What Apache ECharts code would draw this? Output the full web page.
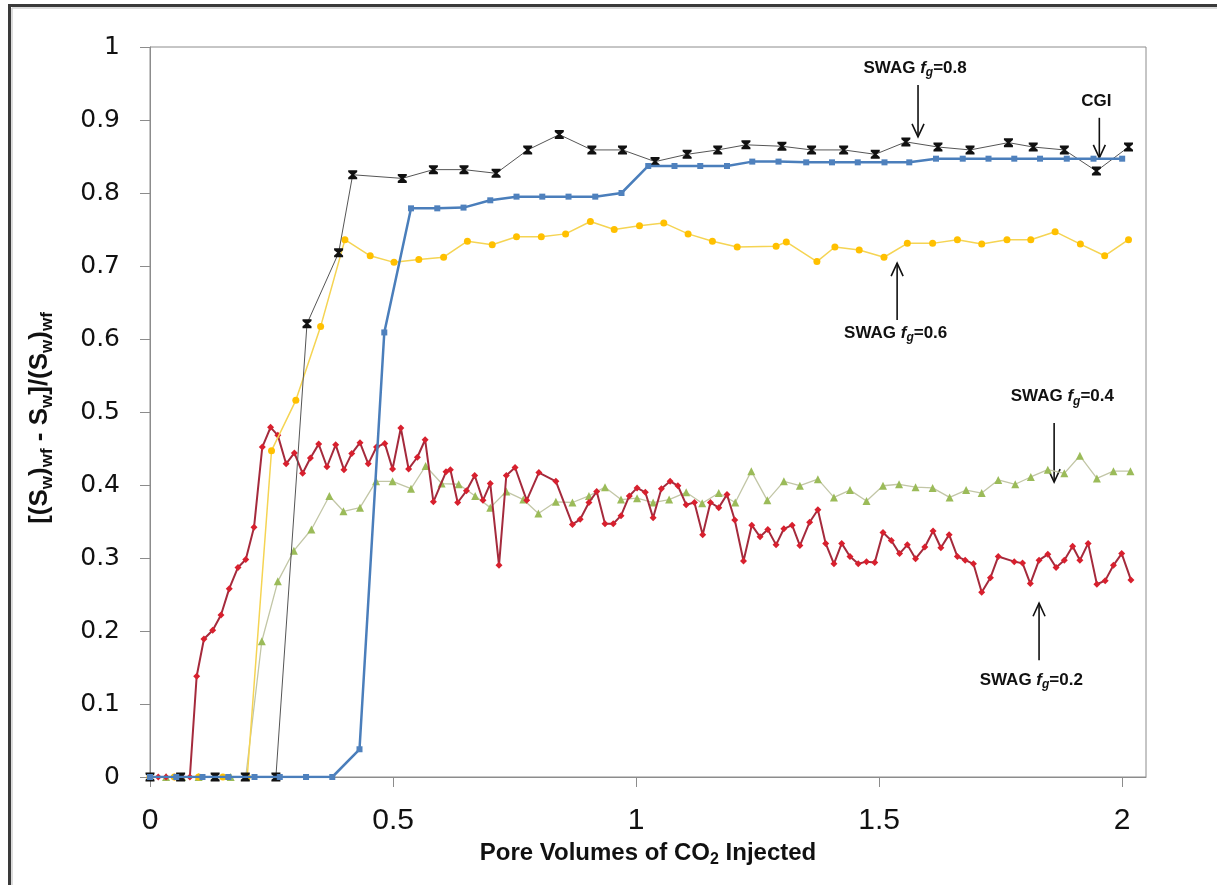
<!DOCTYPE html>
<html>
<head>
<meta charset="utf-8">
<script src="https://cdn.jsdelivr.net/npm/echarts@6/dist/echarts.min.js"></script>
<style>
html,body{margin:0;padding:0;background:#fff;}
#chart{width:1217px;height:885px;}
</style>
</head>
<body>
<div id="chart"></div>
<script>
// ---- Data ----
var xTickValues = [0, 0.5, 1, 1.5, 2];
var yTickValues = [0, 0.1, 0.2, 0.3, 0.4, 0.5, 0.6, 0.7, 0.8, 0.9, 1];

// SWAG fg=0.2 (red)
var fg02X = [0,0.017,0.033,0.05,0.066,0.082,0.096,0.111,0.129,0.146,0.163,0.181,0.197,0.214,0.231,0.248,0.263,0.280,0.297,0.314,0.330,0.347,0.364,0.382,0.399,0.415,0.432,0.449,0.466,0.483,0.499,0.516,0.532,0.550,0.566,0.583,0.609,0.618,0.633,0.651,0.668,0.685,0.700,0.718,0.733,0.751,0.775,0.800,0.835,0.869,0.885,0.903,0.919,0.936,0.953,0.969,0.986,1.002,1.019,1.035,1.052,1.070,1.086,1.103,1.120,1.137,1.153,1.170,1.187,1.203,1.221,1.238,1.255,1.271,1.288,1.304,1.321,1.337,1.357,1.374,1.390,1.407,1.423,1.440,1.457,1.474,1.491,1.508,1.525,1.542,1.558,1.575,1.594,1.611,1.627,1.644,1.661,1.677,1.694,1.711,1.729,1.745,1.778,1.795,1.811,1.829,1.847,1.864,1.881,1.898,1.913,1.930,1.948,1.965,1.982,1.999,2.018];
var fg02Y = [0,0,0,0,0,0,0.138,0.189,0.201,0.222,0.258,0.287,0.298,0.342,0.452,0.479,0.468,0.429,0.444,0.416,0.437,0.456,0.425,0.455,0.421,0.443,0.458,0.429,0.452,0.457,0.422,0.478,0.422,0.438,0.462,0.377,0.418,0.421,0.376,0.392,0.413,0.379,0.402,0.290,0.413,0.424,0.379,0.417,0.405,0.346,0.353,0.376,0.391,0.347,0.347,0.358,0.385,0.396,0.390,0.355,0.395,0.405,0.399,0.373,0.376,0.332,0.376,0.369,0.387,0.352,0.296,0.345,0.329,0.339,0.318,0.340,0.345,0.317,0.349,0.366,0.320,0.292,0.320,0.302,0.292,0.295,0.294,0.335,0.324,0.306,0.318,0.299,0.315,0.337,0.314,0.332,0.302,0.297,0.292,0.253,0.273,0.302,0.295,0.293,0.265,0.297,0.305,0.287,0.297,0.316,0.297,0.320,0.264,0.269,0.290,0.306,0.270];

// SWAG fg=0.4 (green)
var fg04X = [0,0.033,0.066,0.1,0.133,0.166,0.197,0.230,0.263,0.296,0.332,0.369,0.398,0.432,0.465,0.499,0.537,0.567,0.600,0.635,0.669,0.700,0.733,0.768,0.799,0.835,0.869,0.903,0.936,0.969,1.002,1.035,1.068,1.103,1.136,1.170,1.204,1.237,1.270,1.304,1.337,1.374,1.407,1.440,1.474,1.508,1.541,1.575,1.610,1.645,1.679,1.711,1.745,1.780,1.812,1.847,1.881,1.913,1.948,1.982,2.017];
var fg04Y = [0,0,0,0,0,0,0,0.186,0.268,0.310,0.339,0.385,0.364,0.369,0.405,0.405,0.395,0.426,0.402,0.401,0.385,0.369,0.391,0.380,0.361,0.377,0.376,0.385,0.397,0.380,0.382,0.376,0.380,0.390,0.375,0.389,0.376,0.419,0.379,0.405,0.399,0.408,0.383,0.393,0.378,0.399,0.401,0.397,0.396,0.383,0.393,0.389,0.407,0.401,0.411,0.421,0.416,0.440,0.409,0.419,0.419];

// SWAG fg=0.6 (yellow)
var fg06X = [0,0.05,0.1,0.15,0.2,0.250,0.300,0.351,0.401,0.453,0.502,0.553,0.604,0.653,0.704,0.754,0.805,0.855,0.906,0.955,1.007,1.057,1.107,1.157,1.208,1.288,1.309,1.372,1.409,1.459,1.510,1.558,1.610,1.661,1.711,1.763,1.812,1.862,1.914,1.964,2.013];
var fg06Y = [0,0,0,0,0,0.447,0.516,0.617,0.736,0.714,0.705,0.709,0.712,0.734,0.729,0.740,0.740,0.744,0.761,0.750,0.755,0.759,0.744,0.734,0.726,0.727,0.733,0.706,0.726,0.722,0.712,0.731,0.731,0.736,0.730,0.736,0.736,0.747,0.730,0.714,0.736];

// SWAG fg=0.8 (black)
var fg08X = [0,0.063,0.134,0.196,0.259,0.323,0.388,0.417,0.519,0.583,0.646,0.712,0.777,0.842,0.909,0.972,1.039,1.105,1.168,1.226,1.300,1.361,1.427,1.492,1.555,1.621,1.687,1.766,1.817,1.881,1.947,2.013];
var fg08Y = [0,0,0,0,0,0.621,0.718,0.825,0.820,0.832,0.832,0.827,0.859,0.880,0.859,0.859,0.843,0.853,0.859,0.866,0.864,0.859,0.859,0.853,0.870,0.863,0.859,0.869,0.863,0.859,0.830,0.863];

// CGI (blue)
var cgiX = [0,0.054,0.108,0.161,0.215,0.267,0.321,0.375,0.431,0.482,0.537,0.591,0.645,0.700,0.754,0.807,0.861,0.916,0.970,1.025,1.079,1.132,1.187,1.239,1.293,1.350,1.403,1.456,1.511,1.562,1.617,1.672,1.725,1.778,1.831,1.886,1.941,2.000];
var cgiY = [0,0,0,0,0,0,0,0,0.038,0.609,0.779,0.779,0.780,0.790,0.795,0.795,0.795,0.795,0.800,0.837,0.837,0.837,0.837,0.843,0.843,0.842,0.842,0.842,0.842,0.842,0.847,0.847,0.847,0.847,0.847,0.847,0.847,0.847];

// Annotations: label text, label anchor (data coords), arrow tail and head (data coords)
var annotLabels = ['SWAG {i|f}{s|g}=0.8', 'CGI', 'SWAG {i|f}{s|g}=0.6', 'SWAG {i|f}{s|g}=0.4', 'SWAG {i|f}{s|g}=0.2'];
var annotTextPos = [[1.574,0.971],[1.947,0.925],[1.534,0.608],[1.877,0.521],[1.813,0.133]];
var annotArrowTail = [[1.580,0.948],[1.953,0.903],[1.537,0.626],[1.860,0.485],[1.829,0.160]];
var annotArrowHead = [[1.580,0.877],[1.953,0.848],[1.537,0.704],[1.860,0.404],[1.829,0.238]];

function zip(xs, ys){ return xs.map(function(x,i){ return [x, ys[i]]; }); }

var narrow = '"Liberation Sans Narrow", "Arial Narrow", "Liberation Sans", sans-serif';
var hourglass = 'path://M0,0 L10,0 L10,2 L6.5,5 L10,8 L10,10 L0,10 L0,8 L3.5,5 L0,2 Z';

var chart = echarts.init(document.getElementById('chart'), null, {renderer:'canvas'});

var option = {
  animation: false,
  backgroundColor: '#ffffff',
  grid: { left: 150, right: 71, top: 47, bottom: 108, show: true, borderColor: '#8c8c8c', borderWidth: 1, backgroundColor: 'transparent' },
  xAxis: {
    type: 'value', min: 0, max: 2.049, interval: 0.5,
    axisLine: { show: true, onZero: false, lineStyle: { color: '#8c8c8c', width: 1 } },
    axisTick: { show: true, length: 10, inside: false, lineStyle: { color: '#8c8c8c' }, customValues: xTickValues },
    axisLabel: { customValues: xTickValues, margin: 29, fontFamily: narrow, fontSize: 30, color: '#111',
      formatter: function(v){ return (Math.abs(v*2 - Math.round(v*2)) < 1e-6) ? String(v) : ''; } },
    splitLine: { show: false }
  },
  yAxis: {
    type: 'value', min: 0, max: 1, interval: 0.1,
    axisLine: { show: true, lineStyle: { color: '#8c8c8c', width: 1 } },
    axisTick: { show: true, length: 10, lineStyle: { color: '#8c8c8c' } },
    axisLabel: { margin: 30, fontFamily: '"DejaVu Sans", Verdana, sans-serif', fontSize: 25, color: '#111',
      formatter: function(v){ return String(Math.round(v*10)/10); } },
    splitLine: { show: false }
  },
  series: [
    { name: 'SWAG fg=0.4', type: 'line', data: zip(fg04X, fg04Y), symbol: 'triangle', symbolSize: 8,
      itemStyle: { color: '#9BBB59' }, lineStyle: { color: '#c2c6a6', width: 1.3 }, z: 2 },
    { name: 'SWAG fg=0.2', type: 'line', data: zip(fg02X, fg02Y), symbol: 'diamond', symbolSize: 7,
      itemStyle: { color: '#d8202e' }, lineStyle: { color: '#a52a3c', width: 2 }, z: 3 },
    { name: 'SWAG fg=0.6', type: 'line', data: zip(fg06X, fg06Y), symbol: 'circle', symbolSize: 7,
      itemStyle: { color: '#FFC000' }, lineStyle: { color: '#f5d453', width: 1.5 }, z: 4 },
    { name: 'SWAG fg=0.8', type: 'line', data: zip(fg08X, fg08Y), symbol: hourglass, symbolSize: 9,
      itemStyle: { color: '#111111' }, lineStyle: { color: '#555555', width: 1 }, z: 5 },
    { name: 'CGI', type: 'line', data: zip(cgiX, cgiY), symbol: 'rect', symbolSize: 6,
      itemStyle: { color: '#4F81BD' }, lineStyle: { color: '#4a7ebb', width: 2.5 }, z: 6 }
  ]
};
chart.setOption(option);

// ---- frame, axis titles and annotations ----
var graphics = [];
// outer frame (left and top edges)
graphics.push({ type: 'line', shape: { x1: 9.5, y1: 4, x2: 9.5, y2: 885 }, style: { stroke: '#3a3a3a', lineWidth: 3 }, silent: true });
graphics.push({ type: 'line', shape: { x1: 8, y1: 5.5, x2: 1217, y2: 5.5 }, style: { stroke: '#3a3a3a', lineWidth: 3 }, silent: true });
graphics.push({ type: 'line', shape: { x1: 12, y1: 8, x2: 12, y2: 885 }, style: { stroke: '#d0d0d0', lineWidth: 1.5 }, silent: true });
graphics.push({ type: 'line', shape: { x1: 12, y1: 8, x2: 1217, y2: 8 }, style: { stroke: '#d0d0d0', lineWidth: 1.5 }, silent: true });

var titleFont = narrow;
// Y axis title
graphics.push({
  type: 'text', x: 40, y: 418, rotation: Math.PI / 2,
  style: {
    text: '[(S{s|w}){s|wf} - S{s|w}]/(S{s|w}){s|wf}',
    align: 'center', verticalAlign: 'middle',
    fontFamily: titleFont, fontSize: 26, fontWeight: 'bold', fill: '#111', lineHeight: 32,
    rich: {
      s: { fontFamily: titleFont, fontSize: 17, fontWeight: 'bold', fill: '#111', lineHeight: 15, verticalAlign: 'bottom' }
    }
  }
});
// X axis title
graphics.push({
  type: 'text', x: 648, y: 853,
  style: {
    text: 'Pore Volumes of CO{s|2} Injected',
    align: 'center', verticalAlign: 'middle',
    fontFamily: titleFont, fontSize: 24, fontWeight: 'bold', fill: '#111', lineHeight: 30,
    rich: {
      s: { fontFamily: titleFont, fontSize: 16, fontWeight: 'bold', fill: '#111', lineHeight: 14, verticalAlign: 'bottom' }
    }
  }
});

function px(pt){ return chart.convertToPixel({ xAxisIndex: 0, yAxisIndex: 0 }, pt); }

for (var i = 0; i < annotLabels.length; i++) {
  var tp = px(annotTextPos[i]);
  graphics.push({
    type: 'text', x: tp[0], y: tp[1],
    style: {
      text: annotLabels[i], align: 'center', verticalAlign: 'middle',
      fontFamily: titleFont, fontSize: 17, fontWeight: 'bold', fill: '#111', lineHeight: 22,
      rich: {
        i: { fontFamily: titleFont, fontSize: 17, fontWeight: 'bold', fontStyle: 'italic', fill: '#111', lineHeight: 22 },
        s: { fontFamily: titleFont, fontSize: 12, fontWeight: 'bold', fontStyle: 'italic', fill: '#111', lineHeight: 11, verticalAlign: 'bottom' }
      }
    }
  });
  var a = px(annotArrowTail[i]), b = px(annotArrowHead[i]);
  var dir = b[1] > a[1] ? -1 : 1; // head pointing down => barbs go up
  graphics.push({ type: 'line', shape: { x1: a[0], y1: a[1], x2: b[0], y2: b[1] }, style: { stroke: '#111', lineWidth: 1.6 }, silent: true });
  graphics.push({ type: 'polyline', shape: { points: [[b[0] - 6, b[1] + dir * 13], [b[0], b[1]], [b[0] + 6, b[1] + dir * 13]] },
    style: { stroke: '#111', lineWidth: 1.6, fill: null }, silent: true });
}

chart.setOption({ graphic: graphics });
</script>
</body>
</html>
